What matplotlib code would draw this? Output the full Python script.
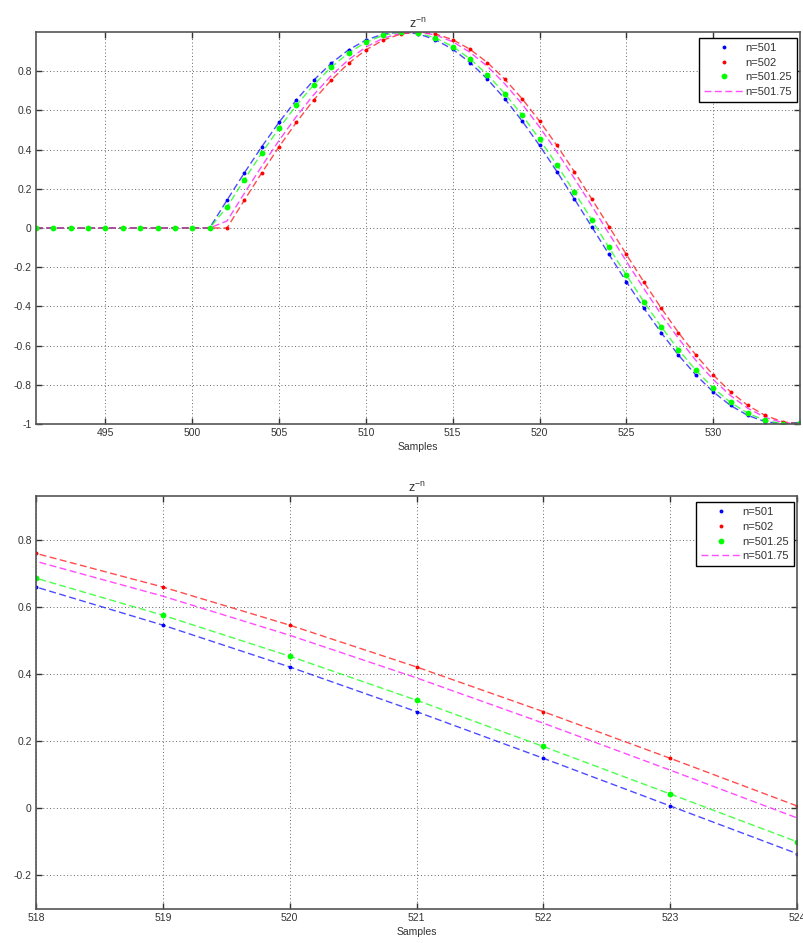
import matplotlib.pyplot as plt
from matplotlib.lines import Line2D

plt.rcParams['font.family'] = ['Liberation Sans', 'DejaVu Sans']

samples = list(range(491, 536))

# n = 501
y_501 = [0.0] * 10 + [
    0.0000, 0.1420, 0.2811, 0.4145, 0.5396, 0.6536, 0.7545, 0.8400, 0.9086,
    0.9587, 0.9894, 1.0000, 0.9904, 0.9607, 0.9115, 0.8439, 0.7591, 0.6590,
    0.5455, 0.4210, 0.2879, 0.1490, 0.0071, -0.1349, -0.2743, -0.4080,
    -0.5336, -0.6482, -0.7498, -0.8361, -0.9056, -0.9566, -0.9883, -1.0000,
    -0.9913]

# n = 502
y_502 = [0.0] * 11 + [
    0.0000, 0.1420, 0.2811, 0.4145, 0.5396, 0.6536, 0.7545, 0.8400, 0.9086,
    0.9587, 0.9894, 1.0000, 0.9904, 0.9607, 0.9115, 0.8439, 0.7591, 0.6590,
    0.5455, 0.4210, 0.2879, 0.1490, 0.0071, -0.1349, -0.2743, -0.4080,
    -0.5336, -0.6482, -0.7498, -0.8361, -0.9056, -0.9566, -0.9883, -1.0000]

# n = 501.25
y_50125 = [0.0] * 11 + [
    0.1067, 0.2468, 0.3819, 0.5092, 0.6263, 0.7306, 0.8202, 0.8931, 0.9479,
    0.9836, 0.9992, 0.9947, 0.9700, 0.9256, 0.8624, 0.7818, 0.6854, 0.5750,
    0.4530, 0.3219, 0.1841, 0.0427, -0.0996, -0.2399, -0.3753, -0.5031,
    -0.6207, -0.7257, -0.8161, -0.8899, -0.9456, -0.9822, -0.9989, -0.9954]

# n = 501.75
y_50175 = [0.0] * 11 + [
    0.0356, 0.1772, 0.3151, 0.4467, 0.5692, 0.6802, 0.7772, 0.8587, 0.9229,
    0.9682, 0.9939, 0.9995, 0.9848, 0.9502, 0.8963, 0.8242, 0.7355, 0.6318,
    0.5153, 0.3884, 0.2536, 0.1137, -0.0285, -0.1701, -0.3083, -0.4403,
    -0.5633, -0.6749, -0.7729, -0.8551, -0.9201, -0.9664, -0.9931, -0.9997]

labels = ['n=501', 'n=502', 'n=501.25', 'n=501.75']

FS = 7.5
DASH = (5, 2.5)


def draw(ax, xlim, ylim, xticks, yticks):
    ax.plot(samples, y_501, color='blue', lw=1.0, dashes=DASH, alpha=0.7)
    ax.plot(samples, y_502, color='red', lw=1.0, dashes=DASH, alpha=0.7)
    ax.plot(samples, y_50125, color='#00ff00', lw=1.0, dashes=DASH, alpha=0.7)
    ax.plot(samples, y_50175, color='magenta', lw=1.0, dashes=DASH, alpha=0.7)
    ax.plot(samples, y_501, 'o', color='blue', ms=2.8, mew=0)
    ax.plot(samples, y_502, 'o', color='red', ms=2.8, mew=0)
    ax.plot(samples, y_50125, 'o', color='#00ff00', ms=4.2, mew=0)

    ax.set_xlim(*xlim)
    ax.set_ylim(*ylim)
    ax.set_xticks(xticks)
    ax.set_yticks(yticks)
    ax.set_yticklabels([f'{t:g}' for t in yticks])
    ax.grid(True, color='#666666', lw=0.7, linestyle=(0, (1, 2.5)))
    ax.tick_params(direction='in', top=True, right=True, length=4, width=1,
                   labelsize=FS, labelcolor='#333333', color='#333333', pad=3)
    for s in ax.spines.values():
        s.set_color('#555555')
        s.set_linewidth(1.2)
    ax.set_title(r'$\mathregular{z^{-n}}$', fontsize=9, color='#333333', pad=3)
    ax.set_xlabel('Samples', fontsize=FS, color='#333333', labelpad=3)

    handles = [
        Line2D([], [], ls='none', marker='o', color='blue', ms=2.8, mew=0),
        Line2D([], [], ls='none', marker='o', color='red', ms=2.8, mew=0),
        Line2D([], [], ls='none', marker='o', color='#00ff00', ms=4.2, mew=0),
        Line2D([], [], color='magenta', lw=1.0, dashes=DASH, alpha=0.7),
    ]
    leg = ax.legend(handles, labels, loc='upper right', bbox_to_anchor=(0.996, 0.985),
                    borderaxespad=0, fontsize=8, fancybox=False, framealpha=1,
                    edgecolor='black', handlelength=3.6, handletextpad=0.15,
                    labelspacing=0.42, borderpad=0.45)
    leg.get_frame().set_linewidth(1.0)
    for t in leg.get_texts():
        t.set_color('#333333')


fig = plt.figure(figsize=(8.04, 9.43), dpi=100)

ax1 = fig.add_axes([0.0448, 0.5504, 0.9502, 0.4157])
draw(ax1, (491, 535), (-1, 1), list(range(495, 535, 5)),
     [-1, -0.8, -0.6, -0.4, -0.2, 0, 0.2, 0.4, 0.6, 0.8])

ax2 = fig.add_axes([0.0448, 0.036, 0.9465, 0.438])
draw(ax2, (518, 524), (-0.3, 0.93), list(range(518, 525)),
     [-0.2, 0, 0.2, 0.4, 0.6, 0.8])

fig.savefig('out.png', dpi=100)
